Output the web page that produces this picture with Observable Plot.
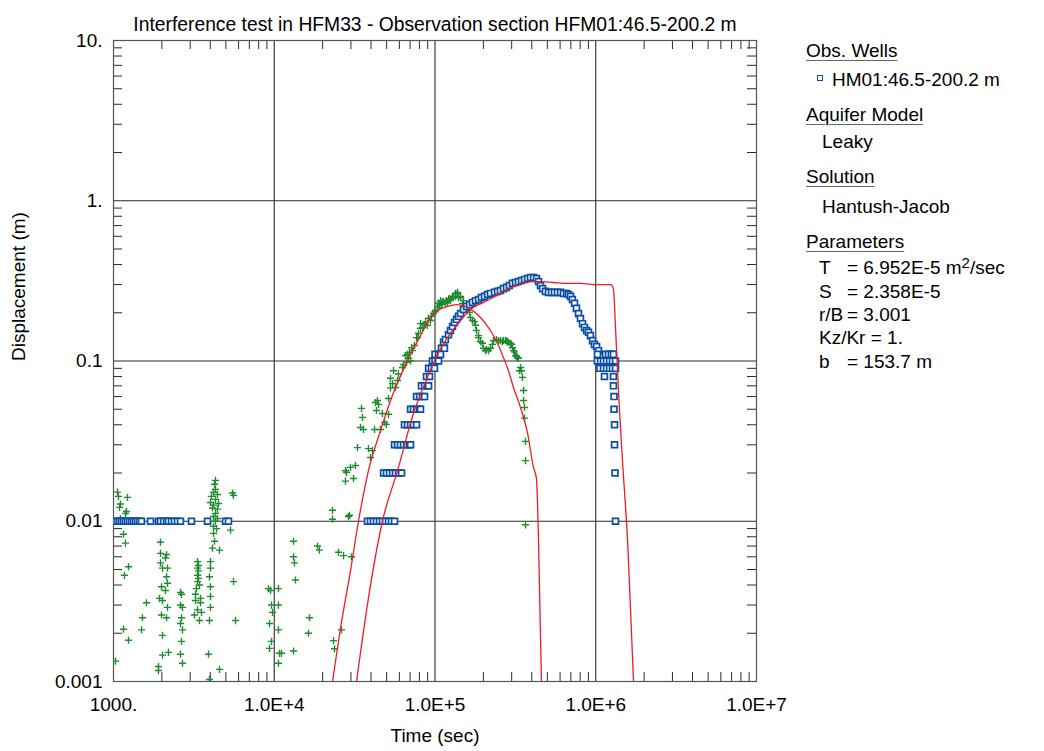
<!DOCTYPE html>
<html>
<head>
<meta charset="utf-8">
<script src="https://cdn.jsdelivr.net/npm/d3@7"></script>
<script src="https://cdn.jsdelivr.net/npm/@observablehq/plot@0.6"></script>
<style>
  body { margin: 0; background: #fff; }
  #wrap { position: relative; width: 1044px; height: 751px; font-family: "Liberation Sans", Arial, sans-serif; color: #000; }
  .lg { position: absolute; font-size: 19px; line-height: 19px; white-space: nowrap; }
  .hd { text-decoration: underline; text-decoration-color: #666; text-underline-offset: 3px; text-decoration-thickness: 1px; }
  sup { font-size: 15px; vertical-align: 6px; line-height: 0; }
</style>
</head>
<body>
<div id="wrap"></div>
<script>
// ---------- text ----------
const chartTitle = "Interference test in HFM33 - Observation section HFM01:46.5-200.2 m";
const xTitle = "Time (sec)";
const yTitle = "Displacement (m)";

// ---------- axes ----------
const xMajor = [1e3, 1e4, 1e5, 1e6, 1e7];
const xTickLabels = ["1000.", "1.0E+4", "1.0E+5", "1.0E+6", "1.0E+7"];
const yMajor = [0.001, 0.01, 0.1, 1, 10];
const yTickLabels = ["0.001", "0.01", "0.1", "1.", "10."];
const minorMultipliers = [2, 3, 4, 5, 6, 7, 8, 9];

// ---------- observed HFM01:46.5-200.2 m (blue squares) ----------
const blueTime = [
  1029,1059,1090,1121,1154,1187,1222,1257,1294,1331,1370,1410,1451,1493,1700,1905,1960,2049,2138,2198,2296,2394,2500,2611,3055,3846,4977,5190,
  38020,39700,41400,43250,45160,47100,49200,51400,53600,56000,
  47860,49890,52120,54450,56750,59290,61940,
  56000,58480,60950,63680,66530,69340,70470,
  64570,67450,70470,73450,76740,
  70470,73450,76740,80170,81280,
  76740,80170,83560,86100,
  82410,86100,89750,91200,
  88510,92470,
  91200,95060,99310,
  96420,100000,105200,
  100000,105200,108200,
  109700,114500,
  113000,116100,121300,124800,128500,132100,136100,140000,144200,150300,157000,164100,171000,178600,186600,194500,203200,212300,221300,234400,244900,255300,266700,278600,290400,303400,316900,330400,345100,360600,376700,392600,410200,427600,440600,452900,466700,486400,508200,530900,553400,578100,603900,629500,657700,676100,696600,716100,737900,758600,781600,803500,827900,851100,877000,901600,926800,955000,981700,1012000,1040000,
  1025000,1151000,1200000,1250000,1288000,
  1025000,1072000,1117000,1167000,1219000,1271000,1327000,
  1060000,1117000,1167000,1219000,1271000,1327000,
  1133000,1288000,
  1288000,1300000,1300000,1309000,1309000,1318000,1327000
];
const blueDisp = [
  0.01,0.01,0.01,0.01,0.01,0.01,0.01,0.01,0.01,0.01,0.01,0.01,0.01,0.01,0.01,0.01,0.01,0.01,0.01,0.01,0.01,0.01,0.01,0.01,0.01,0.01,0.01,0.01,
  0.01,0.01,0.01,0.01,0.01,0.01,0.01,0.01,0.01,0.01,
  0.02,0.02,0.02,0.02,0.02,0.02,0.02,
  0.03,0.03,0.03,0.03,0.03,0.03,0.03,
  0.04,0.04,0.04,0.04,0.04,
  0.05,0.05,0.05,0.05,0.05,
  0.06,0.06,0.06,0.06,
  0.07,0.07,0.07,0.07,
  0.08,0.08,
  0.09,0.09,0.09,
  0.10,0.10,0.10,
  0.11,0.11,0.11,
  0.12,0.12,
  0.131,0.136,0.146,0.155,0.164,0.174,0.182,0.190,0.198,0.210,0.219,0.225,0.232,0.238,0.242,0.249,0.253,0.260,0.264,0.268,0.272,0.275,0.283,0.288,0.296,0.305,0.309,0.313,0.318,0.323,0.327,0.332,0.332,0.327,0.313,0.296,0.283,0.272,0.268,0.268,0.268,0.268,0.268,0.264,0.264,0.260,0.253,0.242,0.229,0.213,0.198,0.184,0.171,0.162,0.155,0.151,0.144,0.134,0.127,0.123,0.116,
  0.11,0.11,0.11,0.11,0.11,
  0.10,0.10,0.10,0.10,0.10,0.10,0.10,
  0.09,0.09,0.09,0.09,0.09,0.09,
  0.08,0.08,
  0.07,0.06,0.05,0.04,0.03,0.02,0.01
];

// ---------- second record (green crosses) ----------
const greenTime = [
  1059,1074,1222,1105,1090,1205,1187,1105,1154,1187,1240,1170,1154,1240,1029,
  1960,1960,2138,2105,1960,2018,2168,2138,2168,1989,2105,1932,2018,2168,1989,2138,2018,2198,2018,1905,1905,
  1604,1514,1494,
  2611,2649,2611,2687,2649,2611,2687,2649,2611,2687,
  3331,3380,3331,3380,3331,3380,3331,3428,3281,3236,3477,3236,3477,3331,3527,3190,3428,
  4310,4250,4310,4190,4435,4070,4310,4010,4500,4190,4130,4435,4310,4190,4435,4310,4190,4375,4190,4250,4130,4565,4010,4010,3954,4010,4010,4010,3954,3900,3954,4565,
  5495,5580,5346,5580,5740,
  9210,9615,9750,9350,9615,9350,10620,10620,10780,10620,9480,10620,
  28130,31120,27740,23030,29380,23030,13180,18580,19100,25120,26980,30260,13180,13360,13550,16560,26190,16330,23380,23710,11090,13180,
  28970,27740,29790,32000,32960,38550,40830,39700,34410,35900,42050,34900,35400,42660,44540,43250,47100,48530,49890,45810,51400,
  52840,54450,58480,56750,52840,51400,55210,62810,65460,72440,66530,68390,74470,76740,81280,87300,93760,97950,103700,113000,124800,138000,144200,
  159200,166300,178600,186600,200400,215300,231200,255300,282500,307600,325800,335700,
  43850,67450,70470,77800,81280,89750,108200,119700,130300,138000,134200,140000,148300,154900,171000,186600,197200,206100,221300,248300,266700,286400,303400,316900,330400,340400,349900,
  274800,295100,345100,355600,355600,360600,360600,365600,365600,365600,
  91200,100900,116300,121500,128500,110000,105000,
  59290,63680,69340,71500,79000,84000,85900,95060,100000,106300,110900,117800,122900,128500,134200,144200,150300,157000,164100,176200,181300,191900,209000,227800,241100,262200,278600,299600,312000,321600
];
const greenDisp = [
  0.0152,0.0143,0.0141,0.0128,0.0122,0.0115,0.0112,0.0104,0.0083,0.0073,0.0052,0.0046,0.00212,0.00181,0.00134,
  0.0074,0.0063,0.0062,0.0059,0.0055,0.0051,0.0051,0.0045,0.0041,0.0039,0.0037,0.0033,0.0032,0.0029,0.0026,0.0025,0.00194,0.00152,0.00146,0.00124,0.00117,
  0.0031,0.0025,0.0021,
  0.0036,0.0035,0.0030,0.0029,0.0025,0.0023,0.0021,0.00178,0.00148,0.0013,
  0.0056,0.0053,0.0051,0.0049,0.0046,0.0044,0.0042,0.0040,0.0038,0.0035,0.0033,0.0032,0.0031,0.0028,0.0027,0.0026,0.0024,
  0.0180,0.0170,0.0158,0.0152,0.0147,0.0143,0.0137,0.0131,0.0129,0.0126,0.0121,0.0119,0.0112,0.0107,0.0104,0.0100,0.0093,0.0090,0.0084,0.0075,0.0068,0.0066,0.0056,0.0051,0.0045,0.0039,0.0034,0.0029,0.0024,0.00148,0.00103,0.00119,
  0.0150,0.0145,0.0088,0.0042,0.0024,
  0.0038,0.0030,0.0027,0.0023,0.00178,0.00161,0.0038,0.0030,0.0015,0.0013,0.0037,0.0021,
  0.0202,0.0185,0.0178,0.0117,0.0109,0.0103,0.0075,0.0070,0.0066,0.0064,0.0061,0.0060,0.0060,0.0055,0.0043,0.0025,0.0021,0.0020,0.0018,0.0016,0.0015,0.00155,
  0.0107,0.0207,0.0217,0.0223,0.0288,0.0284,0.0276,0.0250,0.0385,0.0374,0.0374,0.0506,0.0445,0.0551,0.0536,0.0491,0.0470,0.0413,0.0402,0.0374,0.0465,
  0.0780,0.0724,0.0755,0.0684,0.0680,0.0583,0.0870,0.0910,0.1080,0.1160,0.0980,0.1040,0.1250,0.1400,0.1600,0.1740,0.1790,0.1980,0.2160,0.2350,0.2380,0.2640,0.2490,
  0.2065,0.1870,0.1670,0.1400,0.1200,0.1160,0.1340,0.1340,0.1310,0.1160,0.1050,0.0870,
  0.0567,0.1100,0.1000,0.1400,0.1710,0.1670,0.2380,0.2320,0.2490,0.2680,0.2640,0.2490,0.2290,0.2130,0.1790,0.1440,0.1290,0.1160,0.1200,0.1340,0.1340,0.1310,0.1210,0.1080,0.1040,0.0910,0.0790,
  0.1340,0.1290,0.0870,0.0655,0.0567,0.0513,0.0440,0.0315,0.0239,0.0095,
  0.185,0.2065,0.229,0.243,0.253,0.225,0.230,
  0.083,0.095,0.113,0.121,0.149,0.162,0.169,0.190,0.203,0.222,0.235,0.238,0.245,0.249,0.253,0.253,0.238,0.222,0.201,0.176,0.155,0.132,0.118,0.127,0.136,0.132,0.134,0.127,0.114,0.107
];

// ---------- fitted curves (red) ----------
const fit1Time = [23030,25820,29790,33420,38550,45810,55210,67450,81280,97950,119700,138000,159200,191900,221300,244900,266700,286400,307600,340400,376700,410200,427600,440600,459200];
const fit1Disp = [0.001,0.00215,0.00488,0.01,0.0207,0.0368,0.0636,0.1,0.144,0.198,0.219,0.225,0.216,0.187,0.155,0.129,0.105,0.087,0.0684,0.0513,0.0353,0.0216,0.0185,0.0076,0.001];
const fit2Time = [32510,38020,47100,58480,73450,89750,103700,119700,144200,166300,200400,255300,340400,392600,452900,545800,666800,803500,968200,1236000,1288000,1327000,1387000,1466000,1578000,1718000];
const fit2Disp = [0.001,0.00303,0.01,0.0207,0.047,0.079,0.11,0.14,0.179,0.210,0.232,0.264,0.305,0.313,0.313,0.309,0.305,0.305,0.300,0.300,0.283,0.162,0.063,0.0239,0.0076,0.001];

// ---------- legend ----------
const legendHeaders = ["Obs. Wells", "Aquifer Model", "Solution", "Parameters"];
const wellName = "HM01:46.5-200.2 m";
const aquiferModel = "Leaky";
const solutionName = "Hantush-Jacob";
const paramNames = ["T", "S", "r/B", "Kz/Kr", "b"];
const paramValues = ["6.952E-5 m<sup>2</sup>/sec", "2.358E-5", "3.001", "1.", "153.7 m"];

// ---------- colours ----------
const BLUE = "#0b4ea2", GREEN = "#1f8c2f", RED = "#ee1c25", GRID = "#2a2a2a";

// thin stroked "+" symbol: half-length equals the dot radius
const plusSymbol = {
  draw(ctx, size) {
    const r = Math.sqrt(size / Math.PI);
    ctx.moveTo(-r, 0); ctx.lineTo(r, 0);
    ctx.moveTo(0, -r); ctx.lineTo(0, r);
  }
};

// ---------- build ----------
const blue = blueTime.map((t, i) => ({t, d: blueDisp[i]}));
const green = greenTime.map((t, i) => ({t, d: greenDisp[i]}));
const fit1 = fit1Time.map((t, i) => ({t, d: fit1Disp[i]}));
const fit2 = fit2Time.map((t, i) => ({t, d: fit2Disp[i]}));
const xMinor = xMajor.slice(0, -1).flatMap(p => minorMultipliers.map(m => m * p));
const yMinor = yMajor.slice(0, -1).flatMap(p => minorMultipliers.map(m => +(m * p).toPrecision(6)));
const xLab = new Map(xMajor.map((v, i) => [v, xTickLabels[i]]));
const yLab = new Map(yMajor.map((v, i) => [v, yTickLabels[i]]));

const W = 1044, H = 751, mL = 113, mR = 288, mT = 40, mB = 70;
const fw = W - mL - mR, fh = H - mT - mB, tk = 9;

const chart = Plot.plot({
  width: W, height: H,
  marginLeft: mL, marginRight: mR, marginTop: mT, marginBottom: mB,
  style: {fontFamily: "'Liberation Sans', Arial, sans-serif", fontSize: "19px", color: "#000", background: "#fff"},
  x: {type: "log", domain: [1e3, 1e7]},
  y: {type: "log", domain: [1e-3, 10]},
  marks: [
    Plot.ruleX(xMajor.slice(1, -1), {stroke: GRID, strokeWidth: 1.1}),
    Plot.ruleY(yMajor.slice(1, -1), {stroke: GRID, strokeWidth: 1.1}),
    Plot.tickX(xMinor, {insetTop: fh - tk, stroke: GRID}),
    Plot.tickX(xMinor, {insetBottom: fh - tk, stroke: GRID}),
    Plot.tickY(yMinor, {insetRight: fw - tk, stroke: GRID}),
    Plot.tickY(yMinor, {insetLeft: fw - tk, stroke: GRID}),
    Plot.frame({stroke: "#555", strokeWidth: 1.2}),
    Plot.dot(green, {x: "t", y: "d", symbol: plusSymbol, r: 3.6, fill: "none", stroke: GREEN, strokeWidth: 1.4, clip: true}),
    Plot.dot(blue, {x: "t", y: "d", symbol: "square", r: 3.3, fill: "#fff", stroke: BLUE, strokeWidth: 1.7, clip: true}),
    Plot.line(fit1, {x: "t", y: "d", stroke: RED, strokeWidth: 1.3, curve: "monotone-x", clip: true}),
    Plot.line(fit2, {x: "t", y: "d", stroke: RED, strokeWidth: 1.3, curve: "monotone-x", clip: true}),
    Plot.axisX(xMajor, {tickSize: 0, tickPadding: 16, tickFormat: d => xLab.get(d), label: null, fontSize: 19}),
    Plot.axisY(yMajor, {tickSize: 0, tickPadding: 11, tickFormat: d => yLab.get(d), label: null, fontSize: 19}),
    Plot.text([chartTitle], {frameAnchor: "top", dy: -23, fontSize: 19.3}),
    Plot.text([xTitle], {frameAnchor: "bottom", dy: 60, fontSize: 19}),
    Plot.text([yTitle], {frameAnchor: "left", dx: -95, rotate: -90, fontSize: 19})
  ]
});

const wrap = document.getElementById("wrap");
wrap.appendChild(chart);

function addText(html, left, baseline, cls) {
  const el = document.createElement("div");
  el.className = "lg" + (cls ? " " + cls : "");
  el.style.left = left + "px";
  el.style.top = (baseline - 16) + "px";
  el.innerHTML = html;
  wrap.appendChild(el);
}
addText(legendHeaders[0], 806, 57, "hd");
const sq = document.createElement("div");
sq.style.cssText = `position:absolute;left:817px;top:75px;width:4px;height:4px;border:1.5px solid ${BLUE};background:#fff;`;
wrap.appendChild(sq);
addText(wellName, 832, 86);
addText(legendHeaders[1], 806, 121, "hd");
addText(aquiferModel, 822, 148);
addText(legendHeaders[2], 806, 183, "hd");
addText(solutionName, 822, 213);
addText(legendHeaders[3], 806, 248, "hd");
const paramBase = [274, 298, 321, 344, 368];
paramNames.forEach((n, i) => {
  if (n === "Kz/Kr") {
    addText(n + " = " + paramValues[i], 819, paramBase[i]);
  } else {
    addText(n, 819, paramBase[i]);
    addText("= " + paramValues[i], 847, paramBase[i]);
  }
});
</script>
</body>
</html>
